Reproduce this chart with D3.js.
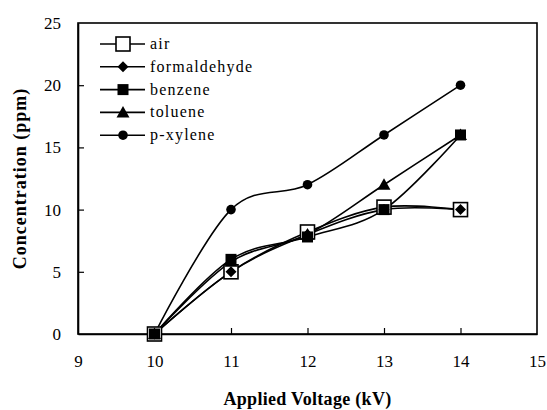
<!DOCTYPE html>
<html><head><meta charset="utf-8">
<script src="https://cdn.jsdelivr.net/npm/d3@7"></script>
<style>html,body{margin:0;padding:0;background:#fff;}svg{display:block;font-family:"Liberation Serif","Times New Roman",serif;}svg text{font-family:"Liberation Serif","Times New Roman",serif;}</style>
</head><body>
<svg id="chart" width="547" height="410"></svg>
<script>
const voltages = [10, 11, 12, 13, 14];
const seriesNames = ["air", "formaldehyde", "benzene", "toluene", "p-xylene"];
const air = [0, 5, 8.2, 10.2, 10];
const formaldehyde = [0, 5, 8, 10, 10];
const benzene = [0, 6, 7.8, 10, 16];
const toluene = [0, 5.8, 8, 12, 16];
const pxylene = [0, 10, 12, 16, 20];
const xTicks = [9, 10, 11, 12, 13, 14, 15];
const yTicks = [0, 5, 10, 15, 20, 25];
const markers = ["openSquare", "diamond", "square", "triangle", "circle"];

const allSeries = [air, formaldehyde, benzene, toluene, pxylene];
const svg = d3.select("#chart");
const m = {left: 78, top: 23, right: 537, bottom: 334};
const x = d3.scaleLinear().domain([9, 15]).range([m.left, m.right]);
const y = d3.scaleLinear().domain([0, 25]).range([m.bottom, m.top]);
const font = "Liberation Serif, Times New Roman, serif";

// frame
svg.append("rect").attr("x", m.left).attr("y", m.top)
  .attr("width", m.right - m.left).attr("height", m.bottom - m.top)
  .attr("fill", "none").attr("stroke", "#000").attr("stroke-width", 1.6);

// axes with inside ticks
const xAxis = svg.append("g").attr("transform", `translate(0,${m.bottom})`)
  .call(d3.axisBottom(x).tickValues(xTicks).tickFormat(d3.format("d")).tickSizeInner(-6).tickSizeOuter(0).tickPadding(21));
const yAxis = svg.append("g").attr("transform", `translate(${m.left},0)`)
  .call(d3.axisLeft(y).tickValues(yTicks).tickFormat(d3.format("d")).tickSizeInner(-6).tickSizeOuter(0).tickPadding(17));
[xAxis, yAxis].forEach(g => {
  g.attr("font-family", font).attr("font-size", 17);
  g.select(".domain").attr("stroke", "#000").attr("stroke-width", 1.6);
  g.selectAll(".tick line").attr("stroke", "#000").attr("stroke-width", 1.2);
  g.selectAll(".tick text").style("font-family", font).style("font-size", "17px").attr("fill", "#000");
});
xAxis.selectAll(".tick").filter(d => d === 9 || d === 15).select("line").remove();
yAxis.selectAll(".tick").filter(d => d === 0 || d === 25).select("line").remove();

// axis titles
svg.append("text").attr("x", (m.left + m.right) / 2).attr("y", 405)
  .attr("text-anchor", "middle").style("font-family", font).attr("font-weight", "bold")
  .attr("font-size", 18).attr("letter-spacing", 0.3).text("Applied Voltage (kV)");
svg.append("text").attr("transform", `translate(26,${(m.top + m.bottom) / 2}) rotate(-90)`)
  .attr("text-anchor", "middle").style("font-family", font).attr("font-weight", "bold")
  .attr("font-size", 18).attr("letter-spacing", 1).text("Concentration (ppm)");

function drawMarker(g, type, cx, cy) {
  if (type === "openSquare") {
    g.append("rect").attr("x", cx - 7).attr("y", cy - 7).attr("width", 14).attr("height", 14)
      .attr("fill", "#fff").attr("stroke", "#000").attr("stroke-width", 1.6);
  } else if (type === "diamond") {
    g.append("path").attr("d", `M${cx},${cy-5.5}L${cx+5.5},${cy}L${cx},${cy+5.5}L${cx-5.5},${cy}Z`).attr("fill", "#000");
  } else if (type === "square") {
    g.append("rect").attr("x", cx - 5.5).attr("y", cy - 5.5).attr("width", 11).attr("height", 11).attr("fill", "#000");
  } else if (type === "triangle") {
    g.append("path").attr("d", `M${cx},${cy-6.5}L${cx+6.5},${cy+5}L${cx-6.5},${cy+5}Z`).attr("fill", "#000");
  } else {
    g.append("circle").attr("cx", cx).attr("cy", cy).attr("r", 4.8).attr("fill", "#000");
  }
}

const line = d3.line().x(d => x(d[0])).y(d => y(d[1])).curve(d3.curveCardinal.tension(0));
allSeries.forEach((vals, i) => {
  const pts = voltages.map((v, j) => [v, vals[j]]);
  svg.append("path").datum(pts).attr("d", line).attr("fill", "none")
    .attr("stroke", "#000").attr("stroke-width", 1.6);
});
allSeries.forEach((vals, i) => {
  const g = svg.append("g");
  voltages.forEach((v, j) => drawMarker(g, markers[i], x(v), y(vals[j])));
});

// legend
const lg = svg.append("g");
seriesNames.forEach((name, i) => {
  const ly = 44 + i * 22.8;
  lg.append("line").attr("x1", 100).attr("x2", 145).attr("y1", ly).attr("y2", ly)
    .attr("stroke", "#000").attr("stroke-width", 1.6);
  drawMarker(lg, markers[i], 123, ly);
  lg.append("text").attr("x", 150).attr("y", ly + 5).style("font-family", font)
    .attr("font-size", 16).attr("letter-spacing", 1.2).attr("fill", "#000").text(name);
});
</script>
</body></html>
